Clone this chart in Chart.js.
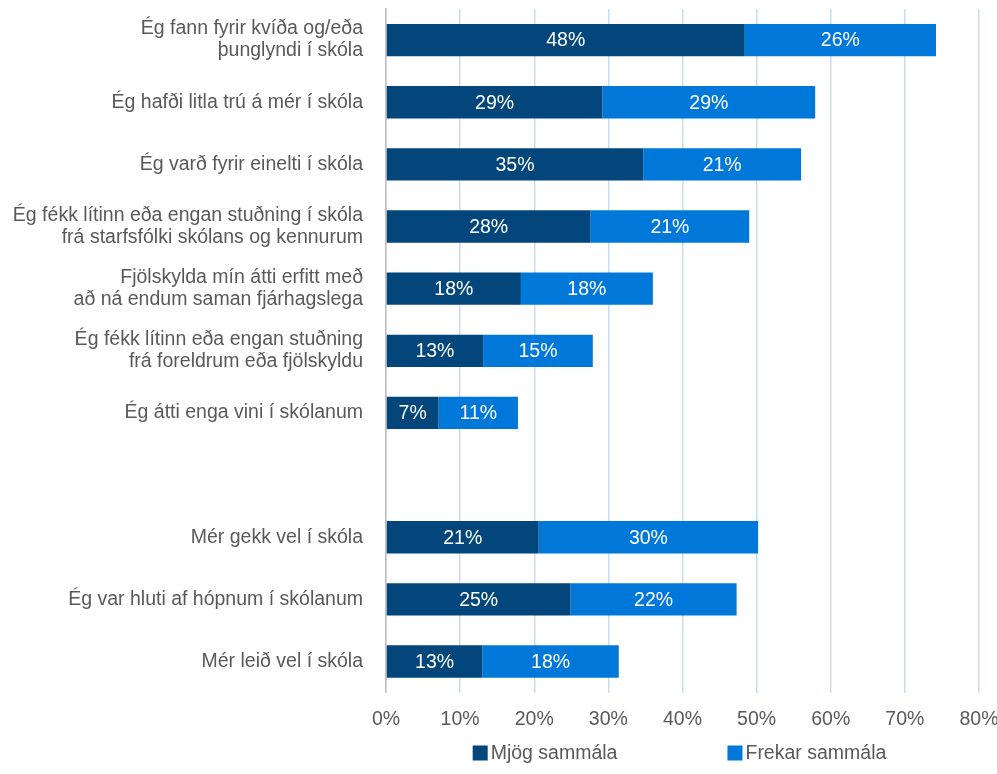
<!DOCTYPE html>
<html>
<head>
<meta charset="utf-8">
<script src="https://cdn.jsdelivr.net/npm/chart.js@4.4.1/dist/chart.umd.min.js"></script>
<style>
  html, body { margin: 0; padding: 0; background: #fff; }
  #wrap { width: 997px; height: 774px; }
</style>
</head>
<body>
<div id="wrap"><canvas id="chart" width="997" height="774"></canvas></div>
<script>
// categories (empty slot = gap between the two groups)
const categories = [
    ["Ég fann fyrir kvíða og/eða", "þunglyndi í skóla"],
    "Ég hafði litla trú á mér í skóla",
    "Ég varð fyrir einelti í skóla",
    ["Ég fékk lítinn eða engan stuðning í skóla", "frá starfsfólki skólans og kennurum"],
    ["Fjölskylda mín átti erfitt með", "að ná endum saman fjárhagslega"],
    ["Ég fékk lítinn eða engan stuðning", "frá foreldrum eða fjölskyldu"],
    "Ég átti enga vini í skólanum",
    "",
    "Mér gekk vel í skóla",
    "Ég var hluti af hópnum í skólanum",
    "Mér leið vel í skóla"
];

const mjogSammala   = [48.4, 29.2, 34.7, 27.6, 18.2, 13.1, 7.1, null, 20.6, 24.9, 13.0];
const frekarSammala = [25.8, 28.7, 21.3, 21.4, 17.8, 14.8, 10.7, null, 29.6, 22.4, 18.4];

const seriesNames = ["Mjög sammála", "Frekar sammála"];
const seriesColors = ["#02467C", "#0078D9"];
const xTicks = [0, 10, 20, 30, 40, 50, 60, 70, 80];

const FONT = "'Liberation Sans', Arial, sans-serif";
const FSIZE = 19.5;

// draw the percentage inside each bar segment
const barLabels = {
    id: "barLabels",
    afterDatasetsDraw(chart) {
        const ctx = chart.ctx;
        ctx.save();
        ctx.font = FSIZE + "px " + FONT;
        ctx.fillStyle = "#ffffff";
        ctx.textAlign = "center";
        ctx.textBaseline = "middle";
        chart.data.datasets.forEach((ds, i) => {
            const meta = chart.getDatasetMeta(i);
            meta.data.forEach((bar, j) => {
                const v = ds.data[j];
                if (v === null || v === undefined) return;
                ctx.fillText(Math.round(v) + "%", (bar.x + bar.base) / 2, bar.y + 1);
            });
        });
        ctx.restore();
    }
};

// legend under the plot, centred on the plot area, with a wide gap between items
const bottomLegend = {
    id: "bottomLegend",
    afterDraw(chart) {
        const ctx = chart.ctx;
        const area = chart.chartArea;
        const box = 15, boxGap = 3, itemGap = 110;
        const y = 753;
        ctx.save();
        ctx.font = FSIZE + "px " + FONT;
        ctx.textBaseline = "middle";
        const widths = seriesNames.map(n => ctx.measureText(n).width);
        let total = 0;
        widths.forEach((w, i) => { total += box + boxGap + w + (i > 0 ? itemGap : 0); });
        let x = (area.left + area.right) / 2 - total / 2 - 3;
        seriesNames.forEach((name, i) => {
            ctx.fillStyle = seriesColors[i];
            ctx.fillRect(x, y - box / 2, box, box);
            ctx.fillStyle = "#595959";
            ctx.textAlign = "left";
            ctx.fillText(name, x + box + boxGap, y + 1);
            x += box + boxGap + widths[i] + itemGap;
        });
        ctx.restore();
    }
};

const ctx = document.getElementById("chart").getContext("2d");
const chart = new Chart(ctx, {
    type: "bar",
    data: {
        labels: categories,
        datasets: seriesNames.map((name, i) => ({
            label: name,
            data: i === 0 ? mjogSammala : frekarSammala,
            backgroundColor: seriesColors[i],
            barPercentage: 0.52,
            categoryPercentage: 1.0
        }))
    },
    options: {
        indexAxis: "y",
        responsive: false,
        animation: false,
        layout: { padding: { top: 9, right: 0, bottom: 28, left: 0 } },
        scales: {
            x: {
                stacked: true,
                min: 0,
                max: 80,
                afterBuildTicks: (scale) => { scale.ticks = xTicks.map(v => ({ value: v })); },
                afterFit: (scale) => { scale.paddingLeft = 0; scale.paddingRight = 18; },
                grid: { color: "#CADDF0", lineWidth: 1.5, drawTicks: false },
                border: { display: false },
                ticks: {
                    padding: 15,
                    color: "#595959",
                    font: { family: FONT, size: FSIZE },
                    callback: (v) => v + "%"
                }
            },
            y: {
                stacked: true,
                grid: { display: false, drawTicks: false },
                border: { display: true, color: "#BFBFBF", width: 1.5 },
                afterFit: (scale) => { scale.width = 386; scale.paddingTop = 0; scale.paddingBottom = 0; },
                ticks: {
                    padding: 23,
                    color: "#595959",
                    font: { family: FONT, size: FSIZE, lineHeight: 1.13 },
                    autoSkip: false
                }
            }
        },
        plugins: {
            legend: { display: false },
            tooltip: { enabled: false }
        }
    },
    plugins: [barLabels, bottomLegend]
});
</script>
</body>
</html>
